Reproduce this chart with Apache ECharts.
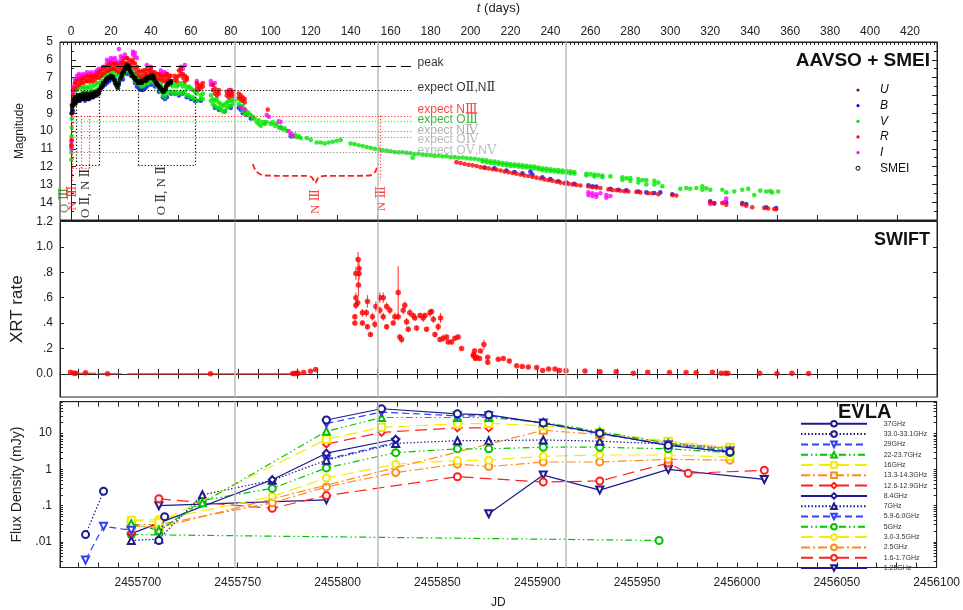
<!DOCTYPE html>
<html>
<head>
<meta charset="utf-8">
<script src="https://cdn.jsdelivr.net/npm/echarts@6/dist/echarts.min.js"></script>
<style>
  html, body { margin: 0; padding: 0; background: #fff; }
  #chart { width: 963px; height: 610px; }
</style>
</head>
<body>
<div id="chart"></div>
<script>
// ---- axis extents ----
const JD_MIN = 2455661;
const JD_MAX = 2456100;
const T0 = 2455666.5;              // t = JD - T0
const grayLineJD = [2455748.5, 2455819.9, 2455914.2];

// ---- AAVSO + SMEI light curves: [t (days), magnitude] ----
const magV = [
  [0.2,11.6],[0.2,11.2],[0.3,10.8],[0.3,10.3],[0.4,9.8],[0.5,9.3],[1,8.6],[1,8.3],
  [2,7.9],[2,8.2],[3,7.7],[3,8.0],[4,7.6],[4,8.0],[5,7.5],[5,7.9],[6,7.6],[6,7.9],[7,7.5],[7,7.8],
  [8,7.6],[8,7.9],[9,7.5],[9,7.9],[10,7.3],[10,7.7],[11,7.5],[11,7.8],[12,7.4],[12,7.8],[13,7.3],[13,7.7],
  [14,7.3],[14,7.6],[15,7.1],[15,7.4],[16,6.9],[16,7.3],[17,6.9],[17,7.2],[18,6.8],[18,7.1],[19,6.7],[19,7.0],
  [20,6.6],[20,6.9],[21,6.7],[21,7.0],[22,6.6],[22,6.9],[23,6.8],[23,7.2],[24,6.9],[24,7.3],[25,6.7],[25,7.0],
  [26,6.6],[26,6.9],[27,6.4],[27,6.7],[28,6.3],[28,6.6],[29,6.3],[29,6.6],[30,6.5],[30,6.8],[31,6.7],[31,7.0],
  [32,6.8],[32,7.2],[33,6.9],[33,7.3],[34,7.0],[34,7.4],[35,7.1],[35,7.5],[36,7.1],[36,7.5],[37,7.0],[37,7.4],
  [38,6.9],[38,7.2],[39,6.9],[39,7.3],[40,6.8],[40,7.2],[41,6.8],[41,7.1],[42,6.9],[42,7.3],[43,7.1],[43,7.5],
  [44,7.2],[44,7.6],[45,7.4],[45,7.8],[46,7.6],[46,8.0],[47,7.7],[47,8.1],[48,7.5],[48,7.9],[49,7.4],[49,7.8],
  [50,7.4],[50,7.8],[51,7.5],[51,7.9],[52,7.3],[52,7.8],[53,7.5],[53,7.9],[54,7.4],[54,7.9],[55,7.3],[55,7.8],
  [56,7.5],[56,7.9],[57,7.4],[57,7.8],[58,7.6],[58,8.0],[59,7.5],[59,8.0],[60,7.6],[60,8.1],[61,7.7],[61,8.1],
  [62,7.8],[62,8.2],[63,7.9],[63,8.3],[65,8.0],[65,8.2],[66,7.9],[66,8.2],
  [70,8.0],[70,8.3],[71,8.2],[71,8.5],[72,8.3],[72,8.6],[73,8.2],[73,8.7],[74,8.4],[74,8.7],[75,8.5],[75,8.8],
  [76,8.6],[76,8.9],[77,8.5],[77,8.9],[78,8.4],[78,8.7],[79,8.3],[79,8.6],[80,8.3],[80,8.6],[81,8.2],[81,8.5],
  [82,8.3],[84,8.2],[84,8.5],[85,8.3],[85,8.6],[86,8.6],[86,8.9],[87,8.8],[87,9.0],[88,8.9],[88,9.1],[89,9.0],
  [90,9.1],[91,9.2],[91,9.3],[92,9.3],[93,9.5],[94,9.4],[94,9.6],[95,9.7],[96,9.5],[97,9.5],[97,9.6],[98,9.5],
  [100,9.6],[101,9.5],[102,9.7],[103,9.6],[104,9.8],[105,9.8],[106,9.9],[107,9.85],[108,10.0],
  [110,10.2],[111,10.3],[112,10.2],[113,10.35],[114,10.3],[115,10.4],[118,10.4],[120,10.5],
  [123,10.65],[125,10.65],[127,10.7],[129,10.65],[131,10.6],[133,10.55],[135,10.5],
  [140,10.7],[142,10.74],[144,10.8],[146,10.84],[148,10.9],[150,10.95],[152,11.0],[154,11.03],[156,11.08],
  [158,11.1],[160,11.14],[162,11.18],[164,11.2],[166,11.19],[168,11.23],[170,11.25],[171,11.5],[172,11.3],
  [174,11.28],[176,11.33],[178,11.35],[180,11.36],[182,11.4],[184,11.39],[186,11.43],[188,11.42],[190,11.46],
  [192,11.47],[194,11.5],[196,11.49],[198,11.53],[200,11.55],[202,11.56],[204,11.6],
  [206,11.62],[206,11.72],[208,11.64],[208,11.76],[210,11.7],[210,11.8],[212,11.71],[212,11.83],[214,11.76],[214,11.86],
  [216,11.8],[216,11.9],[218,11.81],[218,11.93],[220,11.85],[220,11.96],[222,11.88],[222,11.97],[224,11.9],[224,12.0],
  [226,11.93],[226,12.03],[228,11.95],[228,12.05],[230,11.98],[230,12.08],[232,12.0],[232,12.11],[234,12.05],[234,12.15],
  [236,12.1],[236,12.2],[238,12.11],[238,12.23],[240,12.15],[240,12.25],[242,12.18],[242,12.27],[244,12.2],[244,12.3],
  [246,12.22],[246,12.33],[248,12.25],[248,12.35],[250,12.27],[250,12.38],[252,12.3],[252,12.4],
  [258,12.4],[258,12.5],[260,12.42],[262,12.45],[262,12.55],[264,12.48],[266,12.5],[266,12.6],[270,12.55],
  [276,12.6],[276,12.75],[278,12.66],[280,12.65],[280,12.8],[284,12.7],[284,12.9],[286,12.76],[288,12.75],[288,13.0],
  [292,12.8],[292,13.0],[294,12.9],[296,13.1],[305,13.25],[308,13.2],[310,13.25],[313,13.2],[316,13.3],[316,13.1],
  [318,13.22],[320,13.3],[326,13.3],[328,13.45],[332,13.4],[336,13.3],[339,13.25],[342,13.6],[345,13.35],
  [348,13.4],[350,13.38],[351,13.45],[354,13.4]
];
const magB = [
  [1,8.6],[1,8.9],[2,8.3],[3,8.2],[4,8.1],[4,8.3],[5,8.0],[5,8.2],[6,8.1],[7,8.0],[7,8.3],[8,8.1],[9,7.9],[9,8.2],
  [10,8.0],[11,8.1],[12,8.0],[13,7.9],[14,7.8],[15,7.6],[16,7.5],[17,7.4],[18,7.3],[19,7.2],[20,7.1],[22,7.1],
  [24,7.4],[26,7.1],[28,6.8],[30,6.9],[32,7.3],[33,7.5],[34,7.6],[35,7.7],[36,7.7],[37,7.6],[38,7.5],[40,7.4],
  [42,7.5],[44,7.8],[46,8.1],[47,8.2],[48,8.1],[50,7.9],[52,7.9],[54,8.0],[56,7.9],[58,8.1],[60,8.2],[62,8.3],
  [63,8.3],[65,8.3],[72,8.7],[74,8.8],[77,8.9],[80,8.7],[84,8.7],[85,8.8],[86,9.0],[88,9.1],[90,9.3],[105,9.8],[110,10.3],
  [207,12.05],[212,12.1],[218,12.22],[222,12.3],[226,12.38],[230,12.28],[231,12.45],[236,12.6],[240,12.7],[244,12.82],
  [248,12.9],[252,12.97],[259,13.05],[261,13.1],[263,13.12],[270,13.25],[274,13.3],[278,13.33],[284,13.4],[288,13.45],
  [292,13.48],[295,13.45],[301,13.55],[320,13.95],[322,14.08],[328,14.0],[336,14.05],[338,14.1],[348,14.28],[353,14.33]
];
const magR = [
  [0.2,10.8],[0.3,10.5],[0.5,9.0],[0.5,8.6],[1,8.0],[1,7.7],[2,7.3],[2,7.6],[3,7.2],[3,7.5],[4,7.1],[4,7.4],
  [5,7.1],[5,7.3],[6,7.0],[6,7.3],[7,7.0],[7,7.2],[8,6.9],[8,7.2],[9,7.0],[9,7.2],[10,6.9],[10,7.1],[11,7.0],[11,7.2],
  [12,6.9],[12,7.1],[13,6.8],[13,7.0],[14,6.7],[14,7.0],[15,6.6],[15,6.9],[16,6.5],[16,6.8],[17,6.4],[17,6.7],
  [18,6.4],[18,6.6],[19,6.3],[19,6.6],[20,6.2],[20,6.5],[21,6.3],[21,6.5],[22,6.2],[22,6.5],[23,6.3],[23,6.6],
  [24,6.4],[24,6.7],[25,6.2],[25,6.5],[26,6.1],[26,6.3],[27,5.9],[27,6.2],[28,5.9],[28,6.2],[29,6.0],[29,6.3],
  [30,6.1],[30,6.4],[31,6.0],[31,6.2],[32,6.2],[32,6.5],[33,6.4],[33,6.7],[34,6.6],[34,6.9],[35,6.7],[35,7.0],
  [36,6.6],[36,6.9],[37,6.6],[37,6.8],[38,6.5],[38,6.8],[39,6.6],[39,6.9],[40,6.5],[40,6.8],[41,6.7],[41,6.9],
  [42,6.7],[42,7.0],[43,6.8],[43,7.1],[44,6.8],[44,7.0],[45,6.9],[45,7.1],[46,7.0],[46,7.2],[47,6.9],[47,7.2],
  [48,6.8],[48,7.1],[49,6.9],[49,7.1],[50,6.9],[50,7.2],[52,6.9],[52,7.1],[53,7.0],[53,7.2],[54,6.6],[54,6.9],
  [55,6.5],[55,6.8],[56,6.8],[56,7.0],[57,6.9],[57,7.2],[58,7.0],[58,7.1],[63,7.3],[63,7.6],[64,7.5],[64,7.7],
  [65,7.4],[65,7.6],[66,7.3],[66,7.5],[71,7.4],[71,7.7],[72,7.6],[72,7.9],[73,7.8],[73,8.0],[74,7.7],[74,7.9],
  [78,7.8],[78,8.0],[79,7.9],[79,8.1],[80,7.7],[80,8.0],[81,7.8],[81,8.0],[84,7.9],[84,8.1],[85,8.0],[85,8.2],
  [86,8.1],[86,8.3],[87,8.2],[87,8.4],[98.5,8.8],
  [193,11.75],[195,11.8],[197,11.85],[199,11.9],[201,11.93],[203,11.97],[205,12.03],[207,12.07],[209,12.1],
  [211,12.15],[213,12.18],[215,12.22],[217,12.28],[219,12.32],[221,12.36],[223,12.4],[225,12.45],[227,12.5],
  [229,12.53],[231,12.58],[233,12.62],[235,12.67],[237,12.72],[239,12.76],[241,12.8],[243,12.85],[245,12.9],
  [247,12.94],[249,12.97],[251,13.0],[253,13.03],[255,13.06],[259,13.12],[261,13.16],[263,13.18],[265,13.2],
  [269,13.28],[271,13.32],[273,13.33],[275,13.36],[277,13.38],[279,13.4],[283,13.42],[285,13.45],[289,13.5],
  [291,13.5],[294,13.55],[301,13.6],[303,13.62],[320,14.0],[322,14.05],[326,14.05],[328,14.15],[336,14.12],
  [338,14.2],[341,14.28],[347,14.32],[349,14.35],[352,14.38],[353,14.4]
];
const magI = [
  [0.2,10.6],[0.2,10.9],[0.3,11.0],[0.5,9.0],[0.5,8.5],[1,7.8],[1,7.5],[2,7.3],[2,7.1],[3,7.1],[3,6.9],[4,7.0],[4,6.8],
  [5,6.9],[5,7.1],[6,6.8],[6,7.0],[7,6.9],[8,6.7],[8,6.9],[9,6.8],[10,6.7],[10,6.9],[11,6.8],[12,6.7],[12,6.9],
  [13,6.6],[13,6.8],[14,6.5],[14,6.7],[16,6.4],[18,6.2],[18,6.0],[19,6.1],[20,5.9],[20,6.1],[21,6.0],[22,5.9],
  [22,6.2],[23,6.1],[24,5.4],[24,6.2],[25,6.0],[25,5.8],[26,5.9],[27,5.7],[28,5.9],[31,5.7],[31,5.55],[32,5.6],
  [32,5.8],[33,5.9],[38,6.3],[40,6.4],[40,6.6],[45,6.6],[45,6.8],[46,6.7],[47,6.7],[47,6.9],[48,6.8],[49,6.9],
  [55,6.4],[55,6.6],[56,6.5],[57,6.3],[63,7.2],[63,7.4],[70,7.2],[70,7.4],[71,7.4],[72,7.3],[79,7.7],[79,7.9],
  [80,7.8],[85,8.7],[87,8.8],[98,9.1],[99,9.2],[104,9.45],[105,9.5],[109,10.0],[110,10.15],[111,10.3],
  [259,13.45],[259,13.6],[261,13.5],[261,13.65],[263,13.55],[263,13.7],[265,13.5],[268,13.6],[268,13.75],
  [270,13.65],[320,14.1],[327,14.0],[328,13.8]
];
const magU = [[316.8,13.95]];
const magSMEI = [
  [0.3,9.0],[0.6,8.8],[0.6,8.6],[1,8.5],[1,8.3],[1.5,8.4],[1.5,8.2],[2,8.3],[2,8.1],[2,8.5],[2.5,8.2],[2.5,8.4],
  [3,8.1],[3,8.3],[3.5,8.2],[3.5,8.0],[4,8.0],[4,8.2],[4.5,8.1],[4.5,8.3],[5,8.0],[5,8.2],[5.5,8.1],[6,7.9],[6,8.2],
  [6.5,8.0],[7,8.0],[7,8.2],[7.5,8.1],[8,7.9],[8,8.1],[8.5,8.0],[8.5,8.2],[9,8.0],[9,8.2],[9.5,8.1],[10,7.9],[10,8.1],
  [10.5,8.0],[11,7.9],[11,8.1],[11.5,8.0],[12,7.8],[12,8.0],[12.5,7.9],[13,7.8],[13,8.0],[13.5,7.9],[14,7.7],[14,7.9],
  [14.5,7.7],[15,7.5],[15,7.6],[15.5,7.5],[16,7.4],[16,7.3],[16.5,7.3],[17,7.2],[17.5,7.2],[17.5,7.1],[18,7.1],
  [18.5,7.0],[18.5,7.1],[19,7.0],[19.5,6.95],[20,6.9],[20,7.0],[20.5,7.0],[21,6.95],[21.5,7.1],[22,7.2],[22,7.3],
  [22.5,7.4],[23,7.5],[23.5,7.4],[23.5,7.6],[24,7.3],[24.5,7.1],[25,7.0],[25.5,6.9],[25.5,6.8],[26,6.7],[26.5,6.6],
  [26.5,6.7],[27,6.5],[27.5,6.4],[27.5,6.5],[28,6.3],[28,6.4],[28.5,6.35],[29,6.5],[29,6.4],[29.5,6.6],[30,6.7],
  [30.5,6.8],[30.5,6.9],[31,6.9],[31.5,7.0],[32,7.0],[32,7.1],[32.5,7.1],[33,7.2],[33.5,7.3],[34,7.3],[34,7.2],
  [34.5,7.3],[35,7.25],[35.5,7.3],[35.5,7.2],[36,7.2],[36.5,7.15],[37,7.1],[37.5,7.2],[38,7.1],[38,7.0],[39,7.0],
  [39.5,6.95],[39.5,7.05],[40,6.9],[40.5,7.0],[41,6.9],[41.5,7.0],[41.5,7.1],[42,7.2],[42.5,7.3],[43,7.3],[43,7.4],
  [43.5,7.4],[44,7.5],[44.5,7.5],[44.5,7.6],[45,7.6],[45.5,7.7],[46,7.8],[46,7.7],[46.5,7.8],[47,7.7],[47.5,7.6],
  [47.5,7.5],[48,7.4],[48.5,7.3],[48.5,7.4],[49,7.3],[49.5,7.25],[50,7.3],[50,7.2]
];

// ---- expected line strengths (magnitude levels) and annotation geometry ----
const expectMag = [6.35, 7.72, 9.15, 9.43, 10.03, 10.37, 11.17];
const expectEndT = 171;
const expectLabelT = 173.5;
const expectLabelMag = [6.15, 7.55, 8.8, 9.38, 9.98, 10.5, 11.1];
const expectText = ['peak', 'expect O{r|Ⅱ},N{r|Ⅱ}', 'expect N{r|Ⅲ}', 'expect O{r|Ⅲ}', 'expect N{r|Ⅳ}', 'expect O{r|Ⅳ}', 'expect O{r|Ⅴ},N{r|Ⅴ}'];
const boxT = [[2.5, 14.2], [33.7, 62.1]];
const boxBottomMag = 11.9;
const redDropT = [0.8, 5, 9.2, 154.6];
const redDropEnd = [12.85, 12.12, 12.12, 12.78];
const braceT = [91, 93, 97, 110, 117, 120.5, 122.2, 124, 127, 140, 149.5, 152.2, 153.7];
const braceMag = [11.85, 12.3, 12.5, 12.52, 12.52, 12.6, 12.92, 12.6, 12.52, 12.52, 12.5, 12.3, 11.85];
const ionLabelT = [-3, 1, 7.5, 45.5, 122.6, 155.7];
const ionLabelMag = [13.9, 13.77, 13.5, 13.35, 13.96, 13.8];
const ionLabelText = ['O Ⅲ', 'N Ⅲ', 'O Ⅱ, N Ⅱ', 'O Ⅱ, N Ⅱ', 'N Ⅲ', 'N Ⅲ'];

// ---- Swift XRT: [JD, rate, error] ----
const xrtPoints = [
  [2455666.3,0.013,0.005],[2455668.0,0.005,0.004],[2455668.8,0.005,0.004],[2455673.8,0.008,0.004],
  [2455684.8,0.0,0.003],[2455736.3,0.0,0.003],[2455777.5,0.003,0.004],[2455778.5,0.003,0.004],
  [2455779.5,0.004,0.004],[2455780.2,0.004,0.004],[2455783.0,0.010,0.004],[2455786.4,0.020,0.005],[2455789.0,0.034,0.006],
  [2455808.6,0.40,0.02],[2455808.6,0.45,0.02],[2455809.1,0.54,0.03],[2455809.1,0.60,0.04],[2455809.1,0.79,0.05],
  [2455810.2,0.90,0.06],[2455810.7,0.83,0.06],[2455810.7,0.79,0.05],[2455810.4,0.70,0.09],[2455810.0,0.56,0.03],
  [2455812.4,0.40,0.02],[2455812.4,0.48,0.03],[2455814.4,0.48,0.03],[2455814.9,0.57,0.05],[2455814.9,0.37,0.02],
  [2455816.4,0.31,0.02],[2455817.4,0.45,0.03],[2455818.6,0.39,0.03],[2455819.1,0.53,0.04],[2455821.1,0.50,0.03],
  [2455821.1,0.60,0.04],[2455822.8,0.45,0.03],[2455822.8,0.60,0.04],[2455824.5,0.53,0.03],[2455824.5,0.37,0.02],
  [2455826.1,0.50,0.03],[2455827.8,0.40,0.02],[2455828.6,0.45,0.03],[2455830.3,0.64,0.21],[2455830.3,0.45,0.03],
  [2455831.1,0.29,0.02],[2455832.0,0.27,0.03],[2455832.8,0.50,0.03],[2455833.6,0.54,0.03],[2455834.5,0.41,0.03],
  [2455835.3,0.35,0.02],[2455836.1,0.48,0.03],[2455837.8,0.46,0.02],[2455838.6,0.44,0.02],[2455839.5,0.36,0.02],
  [2455841.2,0.46,0.02],[2455842.8,0.44,0.03],[2455843.7,0.46,0.02],[2455844.5,0.35,0.02],[2455846.2,0.48,0.03],
  [2455847.0,0.49,0.02],[2455847.9,0.43,0.03],[2455848.7,0.31,0.02],[2455850.3,0.37,0.03],[2455851.2,0.27,0.02],
  [2455851.5,0.44,0.04],[2455852.8,0.28,0.03],[2455854.5,0.29,0.02],[2455855.3,0.25,0.02],[2455857.0,0.25,0.02],
  [2455858.7,0.28,0.02],[2455860.3,0.29,0.02],[2455862.0,0.20,0.01],[2455867.9,0.15,0.02],[2455869.6,0.13,0.02],
  [2455868.0,0.14,0.02],[2455868.5,0.18,0.02],[2455869.0,0.12,0.01],[2455871.0,0.12,0.01],[2455871.5,0.18,0.01],
  [2455873.2,0.23,0.04],[2455875.1,0.13,0.01],[2455875.1,0.09,0.02],[2455880.4,0.115,0.01],[2455882.9,0.12,0.01],
  [2455885.9,0.10,0.01],[2455889.6,0.063,0.008],[2455892.4,0.058,0.008],[2455895.4,0.053,0.008],[2455899.6,0.050,0.008],
  [2455902.6,0.026,0.006],[2455905.6,0.037,0.006],[2455908.8,0.037,0.006],[2455911.0,0.026,0.005],[2455914.3,0.024,0.005],
  [2455923.8,0.021,0.005],[2455931.3,0.016,0.005],[2455939.4,0.016,0.005],[2455948.0,0.005,0.004],[2455955.2,0.013,0.005],
  [2455966.1,0.011,0.004],[2455974.4,0.011,0.004],[2455979.4,0.008,0.004],[2455987.6,0.013,0.004],[2455992.0,0.005,0.004],
  [2455994.0,0.005,0.004],[2455995.3,0.005,0.004],[2456011.2,0.005,0.004],[2456019.9,0.003,0.004],[2456027.4,0.005,0.004],
  [2456035.7,0.003,0.004]
];
// binned points with a time range: [JD, rate, JD start, JD end]
const xrtBins = [
  [2455673.8, 0.004, 2455666.3, 2455679.0],
  [2455684.8, 0.0, 2455679.7, 2455691.7],
  [2455736.3, 0.0, 2455694.8, 2455777.3]
];

// ---- EVLA flux densities: [JD, mJy] (null breaks a line) ----
const evlaNames = ['37GHz', '33.0-33.1GHz', '29GHz', '22-23.7GHz', '16GHz', '13.3-14.3GHz', '12.6-12.9GHz',
  '8.4GHz', '7GHz', '5.9-6.0GHz', '5GHz', '3.0-3.5GHz', '2.5GHz', '1.6-1.7GHz', '1.25GHz'];
const ev37 = [[2455794.4,23],[2455822,47],[2455860,34],[2455875.7,32],[2455903,19],[2455931.3,10],[2455965.6,4.6],[2455996.5,3.0]];
const ev33 = [[2455673.8,0.016],[2455682.8,0.25],null,[2455710.5,0.011],[2455713.4,0.05]];
const ev29 = [[2455673.8,0.0032],[2455682.8,0.027],[2455696.7,0.021],null,[2455794.4,18.5],[2455822,38],[2455860,30],
  [2455875.7,30],[2455903,19],[2455931.3,9.5],[2455965.6,4.8],[2455996.5,3.2]];
const ev22 = [[2455696.7,0.032],[2455710.5,0.021],[2455732.3,0.12],[2455794.4,11.2],[2455822,27],[2455860,27],
  [2455875.7,27],[2455903,20],[2455931.3,11],[2455965.6,5.3],[2455996.5,3.4]];
const ev16 = [[2455696.7,0.04],[2455710.5,0.035],[2455794.4,6.8],[2455822,14.5],[2455860,18],[2455875.7,18.5],
  [2455903,16],[2455931.3,10.5],[2455965.6,6],[2455996.5,4.1]];
const ev13 = [[2455696.7,0.028],[2455710.5,0.025],[2455903,12],[2455931.3,9.2],[2455965.6,5.6],[2455996.5,3.8]];
const ev12 = [[2455696.7,0.018],null,[2455794.4,5.0],[2455822,10.5],[2455860,14],[2455875.7,14]];
const ev8 = [[2455696.7,0.017],[2455767.3,0.52],[2455794.4,2.8],[2455829.1,6.8]];
const ev7 = [[2455696.7,0.011],[2455710.5,0.012],[2455732.3,0.2],[2455767.3,0.5],[2455794.4,1.8],[2455829.1,5.2],
  [2455860,6.2],[2455875.7,6.2],[2455903,6.5],[2455931.3,6.0],[2455965.6,5.0],[2455996.5,3.8]];
const ev6 = [[2455794.4,1.9],[2455829.1,5.6]];
const ev5 = [[2455696.7,0.016],[2455961,0.011],null,[2455710.5,0.02],[2455732.3,0.14],[2455767.3,0.3],[2455794.4,1.1],
  [2455829.1,2.9],[2455860,3.7],[2455875.7,3.7],[2455903,4.1],[2455931.3,4.1],[2455965.6,3.7],[2455996.5,2.9]];
const ev3 = [[2455696.7,0.04],[2455710.5,0.041],[2455767.3,0.18],[2455794.4,0.58],[2455829.1,1.4],[2455860,1.75],
  [2455875.7,1.8],[2455903,2.3],[2455931.3,2.5],[2455965.6,2.5],[2455996.5,2.2]];
const ev25 = [[2455696.7,0.03],[2455710.5,0.03],[2455767.3,0.12],[2455794.4,0.33],[2455829.1,0.82],[2455860,1.4],
  [2455875.7,1.2],[2455903,1.6],[2455931.3,1.6],[2455965.6,1.9],[2455996.5,1.8]];
const ev1p6 = [[2455696.7,0.028],null,[2455710.5,0.155],[2455767.3,0.085],[2455794.4,0.19],[2455860,0.63],[2455903,0.45],
  [2455931.3,0.48],[2455965.6,1.5],[2455975.6,0.78],[2456013.7,0.95]];
const ev1p25 = [[2455710.5,0.1],[2455794.4,0.145],null,[2455875.7,0.06],[2455903,0.7],[2455931.3,0.27],[2455965.6,1.0],[2456013.7,0.53]];
const evlaData = [ev37, ev33, ev29, ev22, ev16, ev13, ev12, ev8, ev7, ev6, ev5, ev3, ev25, ev1p6, ev1p25];

// ---- tick positions ----
function steps(a, b, s) { const out = []; for (let v = a; v <= b + 1e-9; v += s) out.push(+v.toFixed(6)); return out; }
const tTicks = steps(-4, 432, 2);
const tLabels = steps(0, 420, 20);
const jdTicks10 = steps(2455670, 2456100, 10);
const jdTicks20 = steps(2455680, 2456100, 20);
const jdLabels = steps(2455700, 2456100, 50);
const xrtTicks = [0, 0.2, 0.4, 0.6, 0.8, 1.0, 1.2];
const xrtTickText = ['0.0', '.2', '.4', '.6', '.8', '1.0', '1.2'];
const fluxLabels = [0.01, 0.1, 1, 10];
const fluxLabelText = ['.01', '.1', '1', '10'];
const fluxTicks = [];
[0.001, 0.01, 0.1, 1, 10].forEach(d => { for (let k = 1; k <= 9; k++) { const v = +(d * k).toPrecision(3); if (v >= 0.002 && v <= 70) fluxTicks.push(v); } });

// ---- styles ----
const FONT = '"Liberation Sans", Arial, sans-serif';
const SERIF = '"Liberation Serif", "DejaVu Serif", serif';
const INK = '#222';
const NAVY = '#1c1c8e', BLUE = '#3040f0', GREEN = '#00c400', YELLOW = '#f4ec00', ORANGE = '#ff8a1e', RED = '#ff2020';
const DOT = [1.5, 2], DASH = [7, 4], DDOT = [7, 3, 1.5, 3, 1.5, 3], LDASH = [12, 6], DDASH = [9, 3, 2, 3];
const evlaColor = [NAVY, NAVY, BLUE, GREEN, YELLOW, ORANGE, RED, NAVY, NAVY, BLUE, GREEN, YELLOW, ORANGE, RED, NAVY];
const evlaDash = ['solid', DOT, DASH, DDOT, LDASH, DDASH, LDASH, 'solid', DOT, DASH, DDOT, LDASH, DDASH, LDASH, 'solid'];
const evlaSymbol = ['emptyCircle', 'emptyCircle', 'emptyTriangle', 'emptyTriangle', 'emptyRect', 'emptyRect', 'emptyDiamond',
  'emptyDiamond', 'emptyTriangle', 'emptyTriangle', 'emptyCircle', 'emptyCircle', 'emptyCircle', 'emptyCircle', 'emptyTriangle'];
const evlaRotate = [0, 0, 180, 0, 0, 0, 0, 0, 0, 180, 0, 0, 0, 0, 180];

const chart = echarts.init(document.getElementById('chart'), null, { renderer: 'canvas' });

function jdAxis(grid, position, ticks, inside, labels) {
  return {
    gridIndex: grid, type: 'value', position, min: JD_MIN, max: JD_MAX,
    axisLine: { lineStyle: { color: INK, width: 1 } }, splitLine: { show: false },
    axisTick: { inside, length: 5, customValues: ticks, lineStyle: { color: INK } },
    axisLabel: labels ? { customValues: jdLabels, color: INK, fontSize: 12, fontFamily: FONT, margin: 9,
      formatter: v => String(Math.round(v)) } : { show: false },
    name: labels ? 'JD' : '', nameLocation: 'middle', nameGap: 29.5,
    nameTextStyle: { fontSize: 12, color: INK, fontFamily: FONT }
  };
}
function magAxis(position, labels) {
  return {
    gridIndex: 0, type: 'value', position, inverse: true, min: 5, max: 15, interval: 1,
    axisLine: { lineStyle: { color: INK } }, splitLine: { show: false },
    axisTick: { inside: true, length: 5, lineStyle: { color: INK } },
    minorTick: { show: true, splitNumber: 2, length: 3, lineStyle: { color: INK } },
    axisLabel: labels ? { color: INK, fontSize: 12, fontFamily: FONT, margin: 7, formatter: v => (v >= 15 ? '' : String(v)) } : { show: false },
    name: labels ? 'Magnitude' : '', nameLocation: 'middle', nameGap: 34,
    nameTextStyle: { fontSize: 12, color: INK, fontFamily: FONT }
  };
}
function xrtAxis(position, labels) {
  return {
    gridIndex: 1, type: 'value', position, min: -0.183, max: 1.2,
    axisLine: { lineStyle: { color: INK } }, splitLine: { show: false },
    axisTick: { inside: true, length: 4, customValues: xrtTicks, lineStyle: { color: INK } },
    axisLabel: labels ? { customValues: xrtTicks, color: INK, fontSize: 12, fontFamily: FONT, margin: 7,
      formatter: v => xrtTickText[xrtTicks.findIndex(t => Math.abs(t - v) < 1e-6)] || '' } : { show: false },
    name: labels ? 'XRT rate' : '', nameLocation: 'middle', nameGap: 30,
    nameTextStyle: { fontSize: 17, color: INK, fontFamily: FONT }
  };
}
function fluxAxis(position, labels) {
  return {
    gridIndex: 2, type: 'log', logBase: 10, position, min: 0.00198, max: 73.6,
    axisLine: { lineStyle: { color: INK } }, splitLine: { show: false },
    axisTick: { inside: true, length: 3, customValues: fluxTicks, lineStyle: { color: INK } },
    axisLabel: labels ? { customValues: fluxLabels, color: INK, fontSize: 12, fontFamily: FONT, margin: 8,
      formatter: v => fluxLabelText[fluxLabels.findIndex(t => Math.abs(Math.log10(t) - Math.log10(v)) < 1e-6)] || '' } : { show: false },
    name: labels ? 'Flux Density (mJy)' : '', nameLocation: 'middle', nameGap: 35,
    nameTextStyle: { fontSize: 14, color: INK, fontFamily: FONT }
  };
}

const xAxis = [
  {
    gridIndex: 0, type: 'value', position: 'top', min: JD_MIN - T0, max: JD_MAX - T0,
    axisLine: { lineStyle: { color: INK } }, splitLine: { show: false },
    axisTick: { inside: true, length: 3, customValues: tTicks, lineStyle: { color: INK } },
    axisLabel: { customValues: tLabels, color: INK, fontSize: 12, fontFamily: FONT, margin: 4 },
    name: '{i|t} (days)', nameLocation: 'middle', nameGap: 27,
    nameTextStyle: { fontSize: 13, color: INK, fontFamily: FONT,
      rich: { i: { fontStyle: 'italic', fontSize: 13, color: INK, fontFamily: FONT } } }
  },
  jdAxis(0, 'bottom', jdTicks20, true, false),
  jdAxis(1, 'bottom', jdTicks10, true, false),
  jdAxis(1, 'top', jdTicks10, true, false),
  jdAxis(2, 'bottom', jdTicks10, true, true),
  jdAxis(2, 'top', jdTicks10, true, false)
];
const yAxis = [magAxis('left', true), magAxis('right', false), xrtAxis('left', true), xrtAxis('right', false),
  fluxAxis('left', true), fluxAxis('right', false)];

const series = [];

// gray epoch lines through all three panels
[[1, 0], [2, 2], [4, 4]].forEach(([xi, yi]) => {
  series.push({
    type: 'line', xAxisIndex: xi, yAxisIndex: yi, data: [], silent: true,
    markLine: { symbol: 'none', silent: true, animation: false, label: { show: false },
      lineStyle: { color: '#bdbdbd', width: 1.5, type: 'solid' },
      data: grayLineJD.map(v => ({ xAxis: v })) }
  });
});

// expectation lines, boxes and drops in the magnitude panel
const expectStyle = [
  { color: '#000', type: [10, 5], width: 1.1 },
  { color: '#000', type: [1.2, 2], width: 1.2 },
  { color: '#ff2020', type: [1.2, 2], width: 1.2 },
  { color: '#55ee55', type: [1.2, 2], width: 1.4 },
  { color: '#888', type: [1.2, 2], width: 1 },
  { color: '#888', type: [1.2, 2], width: 1 },
  { color: '#888', type: [1.2, 2], width: 1 }
];
const annoLines = expectMag.map((m, i) => [
  { coord: [0, m], lineStyle: expectStyle[i] }, { coord: [expectEndT, m] }
]);
boxT.forEach(([a, b]) => {
  const st = { color: '#000', type: [1.2, 2], width: 1.2 };
  annoLines.push([{ coord: [a, expectMag[1]], lineStyle: st }, { coord: [a, boxBottomMag] }]);
  annoLines.push([{ coord: [b, expectMag[1]], lineStyle: st }, { coord: [b, boxBottomMag] }]);
  annoLines.push([{ coord: [a, boxBottomMag], lineStyle: st }, { coord: [b, boxBottomMag] }]);
});
redDropT.forEach((t, i) => {
  annoLines.push([{ coord: [t, expectMag[2]], lineStyle: { color: '#ff3030', type: [1.2, 2], width: 1.2 } }, { coord: [t, redDropEnd[i]] }]);
});
annoLines.push([{ coord: [redDropT[0], redDropEnd[1]], lineStyle: { color: '#ff3030', type: [1.2, 2], width: 1.2 } }, { coord: [redDropT[2], redDropEnd[1]] }]);
series.push({
  type: 'line', xAxisIndex: 0, yAxisIndex: 0, data: [], silent: true, z: 1,
  markLine: { symbol: 'none', silent: true, animation: false, label: { show: false }, data: annoLines }
});

// magnitude bands
const bandDefs = [
  ['B', magB, '#0010ff'], ['V', magV, '#00e600'], ['I', magI, '#ff00ff'], ['R', magR, '#ff0000'], ['SMEI', magSMEI, '#000000']
];
bandDefs.forEach(([name, data, color]) => {
  series.push({ name, type: 'scatter', xAxisIndex: 0, yAxisIndex: 0, data, symbol: 'circle', symbolSize: 4.6,
    itemStyle: { color }, silent: true, z: 3 });
});
series.push({ name: 'U', type: 'scatter', xAxisIndex: 0, yAxisIndex: 0, data: magU, symbol: 'emptyCircle', symbolSize: 5,
  itemStyle: { color: '#fff', borderColor: '#999', borderWidth: 1 }, silent: true, z: 3 });

// brace
series.push({
  type: 'line', xAxisIndex: 0, yAxisIndex: 0, data: braceT.map((t, i) => [t, braceMag[i]]), smooth: 0.35,
  symbol: 'none', lineStyle: { color: '#ff2020', width: 1.8, type: [6, 3] }, silent: true, z: 2
});

const expectLabelColor = ['#000', '#000', '#ff1010', '#10a010', '#9a9a9a', '#aaaaaa', '#aaaaaa'];
series.push({
  type: 'scatter', xAxisIndex: 0, yAxisIndex: 0, symbolSize: 0, silent: true, z: 4,
  data: expectLabelMag.map((m, i) => ({
    value: [expectLabelT, m],
    label: { show: true, position: 'right', distance: 0, formatter: expectText[i],
      fontFamily: FONT, fontSize: 12, color: expectLabelColor[i],
      rich: { r: { fontFamily: SERIF, fontSize: 13, color: expectLabelColor[i] } } }
  }))
});

const ionColor = ['#1a8a1a', '#ff1010', '#000', '#000', '#ff1010', '#ff1010'];
series.push({
  type: 'scatter', xAxisIndex: 0, yAxisIndex: 0, symbolSize: 0, silent: true, z: 4,
  data: ionLabelT.map((t, i) => ({
    value: [t, ionLabelMag[i]],
    label: { show: true, position: 'inside', rotate: 90, formatter: ionLabelText[i],
      fontFamily: SERIF, fontSize: 13, color: ionColor[i] }
  }))
});

// Swift XRT
series.push({
  type: 'custom', xAxisIndex: 2, yAxisIndex: 2, silent: true, z: 2,
  data: xrtPoints,
  renderItem: (params, api) => {
    const x = api.value(0), y = api.value(1), e = api.value(2);
    const lo = api.coord([x, y - e]), hi = api.coord([x, y + e]);
    return { type: 'line', shape: { x1: lo[0], y1: lo[1], x2: hi[0], y2: hi[1] },
      style: { stroke: '#ff4a4a', lineWidth: 1.2 } };
  }
});
series.push({
  type: 'custom', xAxisIndex: 2, yAxisIndex: 2, silent: true, z: 2,
  data: xrtBins,
  renderItem: (params, api) => {
    const a = api.coord([api.value(2), api.value(1)]), b = api.coord([api.value(3), api.value(1)]);
    return { type: 'line', shape: { x1: a[0], y1: a[1], x2: b[0], y2: b[1] },
      style: { stroke: '#ff3030', lineWidth: 1.2 } };
  }
});
series.push({
  type: 'scatter', xAxisIndex: 2, yAxisIndex: 2, data: xrtPoints.map(p => [p[0], p[1]]), symbol: 'circle',
  symbolSize: 5.5, itemStyle: { color: '#ff0000' }, silent: true, z: 3
});

// EVLA
evlaNames.forEach((name, i) => {
  series.push({
    name, type: 'line', xAxisIndex: 4, yAxisIndex: 4, data: evlaData[i], connectNulls: false,
    symbol: evlaSymbol[i], symbolRotate: evlaRotate[i], symbolSize: 7, showAllSymbol: true,
    lineStyle: { color: evlaColor[i], width: 1.2, type: evlaDash[i] },
    itemStyle: { color: evlaColor[i], borderColor: evlaColor[i], borderWidth: 1.2 },
    silent: true, z: 3 + (evlaNames.length - i) * 0.01
  });
});

// top-panel legend and panel titles
const bandLegend = [['U', '#800080', true], ['B', '#0010ff', true], ['V', '#00e600', true], ['R', '#ff0000', true],
  ['I', '#ff00ff', true], ['SMEI', '#000', false]];
const graphic = [];
bandLegend.forEach(([txt, color, italic], i) => {
  const y = 90 + i * 15.65;
  graphic.push(i === 5
    ? { type: 'circle', shape: { cx: 858, cy: y, r: 2 }, style: { fill: '#fff', stroke: color, lineWidth: 1 } }
    : { type: 'circle', shape: { cx: 858, cy: y, r: 1.6 }, style: { fill: color } });
  graphic.push({ type: 'text', x: 880, y, style: { text: txt, fill: '#111', font: (italic ? 'italic ' : '') + '12px ' + FONT,
    verticalAlign: 'middle' } });
});
graphic.push({ type: 'text', x: 930, y: 61, style: { text: 'AAVSO + SMEI', fill: '#111', font: 'bold 19px ' + FONT,
  align: 'right', verticalAlign: 'middle' } });
graphic.push({ type: 'text', x: 930, y: 240, style: { text: 'SWIFT', fill: '#111', font: 'bold 18px ' + FONT,
  align: 'right', verticalAlign: 'middle' } });
graphic.push({ type: 'text', x: 838, y: 412, style: { text: 'EVLA', fill: '#111', font: 'bold 20px ' + FONT,
  align: 'left', verticalAlign: 'middle' } });

chart.setOption({
  animation: false,
  textStyle: { fontFamily: FONT },
  grid: [
    { left: 60, right: 26, top: 42, height: 178, show: true, borderColor: INK, borderWidth: 1 },
    { left: 60, right: 26, top: 221.5, height: 175.5, show: true, borderColor: INK, borderWidth: 1 },
    { left: 60, right: 26, top: 401.7, height: 174.5, show: true, borderColor: INK, borderWidth: 1 }
  ],
  legend: {
    data: evlaNames, orient: 'vertical', left: 800, top: 420, padding: 0, itemWidth: 66, itemHeight: 7, itemGap: 2.7,
    selectedMode: false, formatter: n => '      ' + n,
    textStyle: { fontSize: 7, color: '#333', fontFamily: FONT, lineHeight: 7 }
  },
  xAxis, yAxis, series, graphic
});
</script>
</body>
</html>
